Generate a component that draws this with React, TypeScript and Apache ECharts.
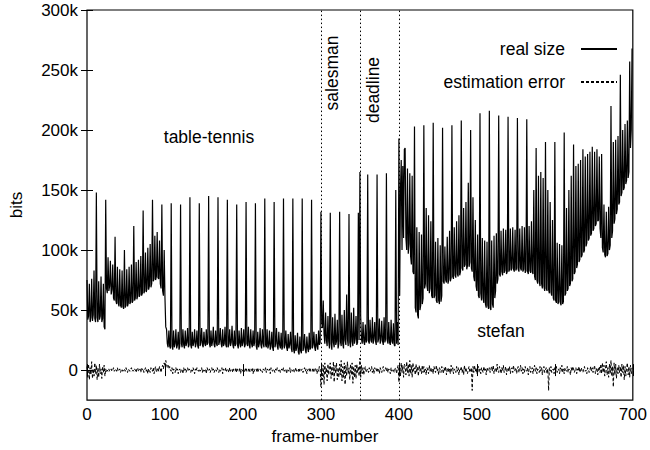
import React, { useEffect, useRef } from "react";
import * as echarts from "echarts";

// real size per frame, in kbits (rows of 12 frames = one GOP)
const realSizeK: number[] = [
  75, 42, 45, 72, 40, 44, 76, 41, 46, 83, 43, 40,
  148, 44, 40, 74, 42, 45, 78, 40, 43, 72, 36, 34,
  142, 68, 64, 94, 66, 70, 91, 63, 67, 88, 60, 58,
  111, 58, 55, 86, 56, 53, 84, 54, 52, 83, 53, 51,
  100, 52, 54, 84, 53, 56, 86, 55, 57, 88, 56, 58,
  120, 58, 60, 90, 59, 62, 92, 61, 63, 95, 62, 64,
  133, 64, 66, 98, 65, 68, 102, 67, 70, 105, 69, 72,
  142, 74, 76, 112, 75, 78, 115, 77, 76, 108, 72, 68,
  138, 66, 62, 100, 60, 36, 34, 22, 19, 33, 20, 18,
  139, 20, 17, 33, 19, 22, 34, 18, 21, 32, 17, 20,
  138, 22, 19, 34, 21, 18, 33, 20, 23, 35, 19, 21,
  144, 21, 18, 32, 20, 23, 34, 19, 22, 33, 20, 18,
  139, 20, 23, 35, 21, 19, 32, 22, 20, 34, 21, 23,
  145, 22, 19, 33, 20, 24, 36, 21, 19, 33, 22, 20,
  144, 21, 24, 35, 22, 19, 34, 20, 22, 36, 21, 19,
  142, 19, 22, 34, 20, 23, 37, 21, 18, 33, 20, 22,
  138, 21, 18, 33, 22, 19, 35, 20, 23, 34, 19, 21,
  140, 22, 20, 36, 21, 18, 34, 22, 19, 33, 20, 23,
  139, 20, 17, 32, 19, 22, 35, 21, 18, 34, 22, 19,
  143, 21, 19, 34, 18, 21, 33, 17, 20, 32, 19, 16,
  140, 19, 22, 35, 20, 17, 32, 21, 18, 31, 17, 20,
  143, 18, 21, 33, 19, 16, 30, 18, 21, 32, 18, 15,
  143, 17, 14, 29, 16, 19, 31, 15, 13, 28, 16, 14,
  143, 16, 19, 30, 17, 14, 28, 18, 15, 31, 17, 19,
  142, 18, 21, 32, 19, 16, 30, 20, 17, 33, 21, 23,
  132, 40, 35, 58, 30, 22, 48, 25, 20, 45, 24, 18,
  131, 22, 17, 44, 23, 19, 47, 21, 24, 42, 18, 22,
  132, 24, 20, 46, 22, 18, 50, 25, 21, 63, 26, 20,
  130, 23, 19, 48, 24, 20, 52, 22, 26, 45, 21, 23,
  131, 25, 165, 45, 26, 22, 40, 24, 21, 38, 23, 25,
  163, 24, 22, 42, 25, 23, 44, 22, 26, 40, 24, 21,
  163, 23, 26, 43, 22, 25, 41, 24, 21, 44, 23, 26,
  164, 25, 22, 40, 23, 21, 42, 24, 22, 39, 21, 20,
  150, 22, 40, 21, 193, 62, 150, 175, 100, 170, 110, 184,
  185, 110, 100, 168, 97, 105, 164, 95, 88, 162, 82, 80,
  203, 52, 48, 119, 46, 43, 115, 50, 54, 113, 55, 60,
  204, 68, 72, 135, 70, 66, 129, 64, 68, 124, 62, 60,
  206, 60, 62, 107, 58, 56, 110, 58, 55, 104, 57, 62,
  202, 74, 72, 103, 75, 73, 111, 72, 76, 116, 74, 77,
  204, 78, 76, 119, 79, 77, 124, 80, 78, 129, 79, 82,
  208, 85, 83, 135, 86, 88, 140, 84, 87, 156, 86, 90,
  200, 85, 82, 144, 78, 74, 125, 70, 66, 113, 62, 60,
  214, 64, 58, 110, 60, 56, 108, 55, 52, 107, 54, 51,
  216, 52, 50, 108, 55, 52, 112, 60, 66, 114, 72, 76,
  212, 80, 78, 116, 82, 79, 118, 81, 83, 117, 80, 82,
  211, 82, 84, 118, 83, 85, 119, 84, 82, 117, 83, 85,
  210, 84, 82, 118, 85, 83, 120, 82, 84, 119, 81, 83,
  209, 82, 80, 120, 83, 81, 124, 82, 80, 150, 78, 75,
  185, 75, 72, 162, 74, 70, 165, 72, 68, 160, 70, 66,
  190, 68, 66, 150, 67, 64, 140, 65, 62, 125, 60, 58,
  190, 58, 56, 106, 55, 57, 105, 56, 54, 104, 55, 57,
  198, 62, 64, 135, 66, 68, 150, 70, 72, 162, 74, 76,
  188, 80, 82, 170, 85, 88, 172, 90, 92, 175, 94, 96,
  184, 98, 100, 178, 103, 106, 180, 108, 110, 182, 112, 114,
  186, 116, 118, 182, 120, 122, 184, 124, 125, 178, 118, 110,
  180, 102, 98, 138, 96, 94, 132, 95, 97, 136, 100, 104,
  220, 110, 116, 190, 122, 126, 192, 130, 134, 195, 138, 140,
  246, 145, 148, 200, 150, 152, 205, 155, 158, 208, 160, 165,
  257, 185, 200, 268,
];

// estimation error per frame, in kbits
const errorK: number[] = [
  3, -6, 5, -8, 2, -4, 7, -7, 1, -5, 6, -3,
  4, -8, 2, -6, 5, -3, 1, -7, 3, -2, 4, -5,
  1, -2, 0, -1, 1, -1, 0, 1, -1, 0, 2, -1,
  0, 1, -1, 2, -1, 0, 1, -2, 0, 1, -1, 0,
  1, -1, 2, 0, -2, 1, 0, -1, 1, 2, -1, 0,
  -1, 1, 0, -2, 1, 2, -1, 0, 1, -2, 2, 0,
  1, -2, 0, 2, -1, 1, -3, 1, 0, -2, 2, 1,
  -1, 2, -3, 1, 3, -2, 0, 2, -1, 3, 1, -2,
  2, 4, 1, 6, 3, 8, 5, 2, 4, 1, 3, 0,
  -1, 2, -3, 1, 0, -2, 2, -1, 1, -3, 0, 1,
  -2, 1, 0, -3, 2, -1, 1, -2, 0, 2, -1, 1,
  0, -2, 1, -1, 2, 0, -3, 1, -1, 2, 0, -1,
  1, -1, 0, 2, -2, 1, -1, 0, 1, -3, 2, 0,
  -1, 1, -2, 0, 2, -1, 1, -2, 0, 1, -1, 2,
  0, -2, 1, -1, 0, 2, -3, 1, 0, -1, 2, -1,
  1, 0, -2, 2, -1, 0, 1, -2, 1, 0, -1, 2,
  -2, 1, 0, -1, 2, -3, 1, 0, -1, 1, -2, 0,
  2, -1, 0, 1, -2, 1, -1, 0, 2, -3, 1, -1,
  0, 1, -2, 2, -1, 0, 1, -1, 0, -2, 1, 0,
  -1, 2, -2, 1, 0, -1, 1, -3, 2, 0, -1, 1,
  0, -2, 1, -1, 2, 0, -1, 1, -2, 0, 1, -1,
  2, -1, 0, 1, -3, 1, 0, -1, 2, -2, 1, 0,
  -1, 1, -2, 0, 2, -1, 0, 1, -2, 1, -1, 0,
  1, -2, 0, 2, -1, 1, -3, 0, 1, -1, 2, -1,
  0, 1, -2, 1, -1, 2, 0, -3, 1, -1, 3, 2,
  -14, 5, -8, 4, -12, 6, -3, 2, -9, 5, -4, 3,
  6, -7, 3, -5, 7, -10, 4, -3, 6, -8, 2, -6,
  5, -4, 8, -9, 3, -6, 6, -12, 4, -5, 7, -3,
  2, -8, 5, -4, 6, -11, 3, -6, 4, -7, 5, -2,
  3, -5, 10, -6, 4, -3, 2, -4, 1, 3, -2, 0,
  1, -2, 2, -1, 0, 3, -2, 1, -3, 2, 0, -1,
  2, -1, 1, -3, 2, 0, -2, 1, 3, -1, 0, 2,
  -1, 2, -2, 1, 0, -3, 2, -1, 1, 0, -2, 1,
  2, -3, 1, 4, -10, 3, -5, 6, -2, 4, -6, 5,
  3, -4, 7, -2, 5, -5, 8, -3, 4, -6, 6, -1,
  2, -4, 5, -2, 3, -5, 4, -1, 2, -3, 4, -2,
  3, -2, 1, -4, 2, 0, -3, 4, -1, 2, -2, 1,
  -3, 3, 0, -2, 4, -1, 1, -4, 2, 0, -2, 3,
  1, -3, 2, -1, 3, -4, 0, 2, -2, 1, -3, 4,
  -1, 2, -3, 1, 0, -2, 3, -1, 2, -4, 1, 0,
  3, -2, 1, -4, 4, -1, 2, -2, -3, 1, 3, -2,
  0, 2, -17, 3, -2, 4, -1, 2, -3, 1, 3, -2,
  1, -3, 2, 0, -2, 3, -1, 1, -4, 2, 0, -1,
  2, -2, 1, 3, -1, 4, -3, 0, 2, -2, 5, -1,
  -2, 3, 1, -3, 2, -1, 4, -2, 0, 3, -4, 1,
  2, -1, 3, -3, 1, 2, -2, 4, -1, 0, 2, -3,
  1, 3, -2, 0, 4, -1, 2, -3, 1, -2, 3, 0,
  -1, 2, -4, 1, 3, -2, 0, 2, -3, 1, 4, -1,
  2, -3, 1, 0, -2, 3, -1, 2, -4, 1, 3, -2,
  0, 2, -3, 1, -17, 2, -1, 3, -2, 0, 1, -3,
  2, -1, 3, -2, 0, 1, -3, 2, -1, 4, -2, 1,
  -3, 2, 0, -1, 3, -2, 1, 0, -4, 2, -1, 3,
  1, -2, 0, 2, -3, 1, -1, 3, -2, 0, 2, -1,
  -2, 1, 3, -1, 0, -3, 2, 1, -2, 0, 3, -1,
  2, -2, 1, 4, -3, 0, 2, -4, 1, 3, -2, 5,
  -3, 6, -2, 4, -5, 3, 7, -4, 2, -6, 5, -3,
  8, -5, 3, -14, 6, -4, 5, -7, 2, -3, 4, -2,
  3, -6, 5, -2, 4, -8, 3, -5, 2, 6, -4, 3,
  -6, 4, -3, 2,
];

const sceneCuts: number[] = [300, 350, 400];
const yTicks: number[] = [0, 50000, 100000, 150000, 200000, 250000, 300000];
const xTicks: number[] = [0, 100, 200, 300, 400, 500, 600, 700];
const seriesNames: string[] = ["real size", "estimation error"];

const FONT = "'Liberation Sans', Arial, Helvetica, sans-serif";

export default function App() {
  const ref = useRef<HTMLDivElement>(null);

  useEffect(() => {
    document.body.style.margin = "0";
    const chart = echarts.init(ref.current!, null, { renderer: "svg" });
    const realData = realSizeK.map((v, i) => [i, v * 1000]);
    const errData = errorK.map((v, i) => [i, v * 1000]);
    const fmtY = (v: number) => (v === 0 ? "0" : v / 1000 + "k");
    const textStyle = { fontFamily: FONT, fontSize: 17, color: "#000" };

    chart.setOption({
      animation: false,
      backgroundColor: "#fff",
      textStyle: { fontFamily: FONT },
      grid: {
        left: 87,
        right: 16,
        top: 10,
        bottom: 41,
        show: true,
        borderColor: "#000",
        borderWidth: 1.2,
        backgroundColor: "transparent",
      },
      legend: {
        data: seriesNames,
        orient: "vertical",
        right: 27,
        top: 35,
        align: "right",
        itemWidth: 36,
        itemHeight: 14,
        itemGap: 15,
        itemStyle: { color: "transparent", borderWidth: 0, opacity: 0 },
        textStyle: { ...textStyle, fontSize: 17.5, padding: [0, 11, 0, 0] },
      },
      xAxis: [
        {
          type: "value",
          min: 0,
          max: 700,
          interval: 100,
          name: "frame-number",
          nameLocation: "middle",
          nameGap: 22,
          nameTextStyle: { ...textStyle, padding: [0, 70, 0, 0] },
          axisLine: { show: false },
          axisTick: { show: true, inside: true, length: 6, lineStyle: { color: "#000" } },
          axisLabel: { ...textStyle, margin: 6, customValues: xTicks },
          splitLine: { show: false },
        },
        {
          type: "value",
          position: "top",
          min: 0,
          max: 700,
          interval: 100,
          axisLine: { show: false },
          axisTick: { show: true, inside: true, length: 6, lineStyle: { color: "#000" } },
          axisLabel: { show: false },
          splitLine: { show: false },
        },
      ],
      yAxis: [
        {
          type: "value",
          min: -25000,
          max: 300000,
          name: "bits",
          nameLocation: "middle",
          nameGap: 62,
          nameTextStyle: { ...textStyle },
          axisLine: { show: false },
          axisTick: {
            show: true,
            inside: true,
            length: 6,
            customValues: yTicks,
            lineStyle: { color: "#000" },
          },
          axisLabel: { ...textStyle, margin: 9, customValues: yTicks, formatter: fmtY },
          splitLine: { show: false },
        },
        {
          type: "value",
          position: "right",
          min: -25000,
          max: 300000,
          axisLine: { show: false },
          axisTick: {
            show: true,
            inside: true,
            length: 6,
            customValues: yTicks,
            lineStyle: { color: "#000" },
          },
          axisLabel: { show: false, customValues: yTicks },
          splitLine: { show: false },
        },
      ],
      series: [
        {
          name: seriesNames[1],
          type: "line",
          data: errData,
          symbol: "none",
          z: 2,
          lineStyle: { color: "#000", width: 1, type: [3, 2] },
          itemStyle: { color: "#000" },
        },
        {
          name: seriesNames[0],
          type: "line",
          data: realData,
          symbol: "none",
          z: 3,
          lineStyle: { color: "#000", width: 1.2 },
          itemStyle: { color: "#000" },
          markLine: {
            silent: true,
            symbol: ["none", "none"],
            label: { show: false },
            lineStyle: { color: "#000", width: 1, type: [1.5, 2.5] },
            data: sceneCuts.map((x) => ({ xAxis: x })),
          },
        },
      ],
      graphic: [
        {
          type: "text",
          x: 209,
          y: 137,
          style: { text: "table-tennis", font: `17.5px ${FONT}`, fill: "#000", align: "center", verticalAlign: "middle" },
        },
        {
          type: "text",
          x: 332,
          y: 73,
          rotation: Math.PI / 2,
          style: { text: "salesman", font: `17.5px ${FONT}`, fill: "#000", align: "center", verticalAlign: "middle" },
        },
        {
          type: "text",
          x: 373,
          y: 90,
          rotation: Math.PI / 2,
          style: { text: "deadline", font: `17.5px ${FONT}`, fill: "#000", align: "center", verticalAlign: "middle" },
        },
        {
          type: "text",
          x: 501,
          y: 331,
          style: { text: "stefan", font: `17.5px ${FONT}`, fill: "#000", align: "center", verticalAlign: "middle" },
        },
      ],
    });

    return () => chart.dispose();
  }, []);

  return (
    <div
      ref={ref}
      style={{ position: "fixed", left: 0, top: 0, width: 650, height: 450 }}
    />
  );
}
